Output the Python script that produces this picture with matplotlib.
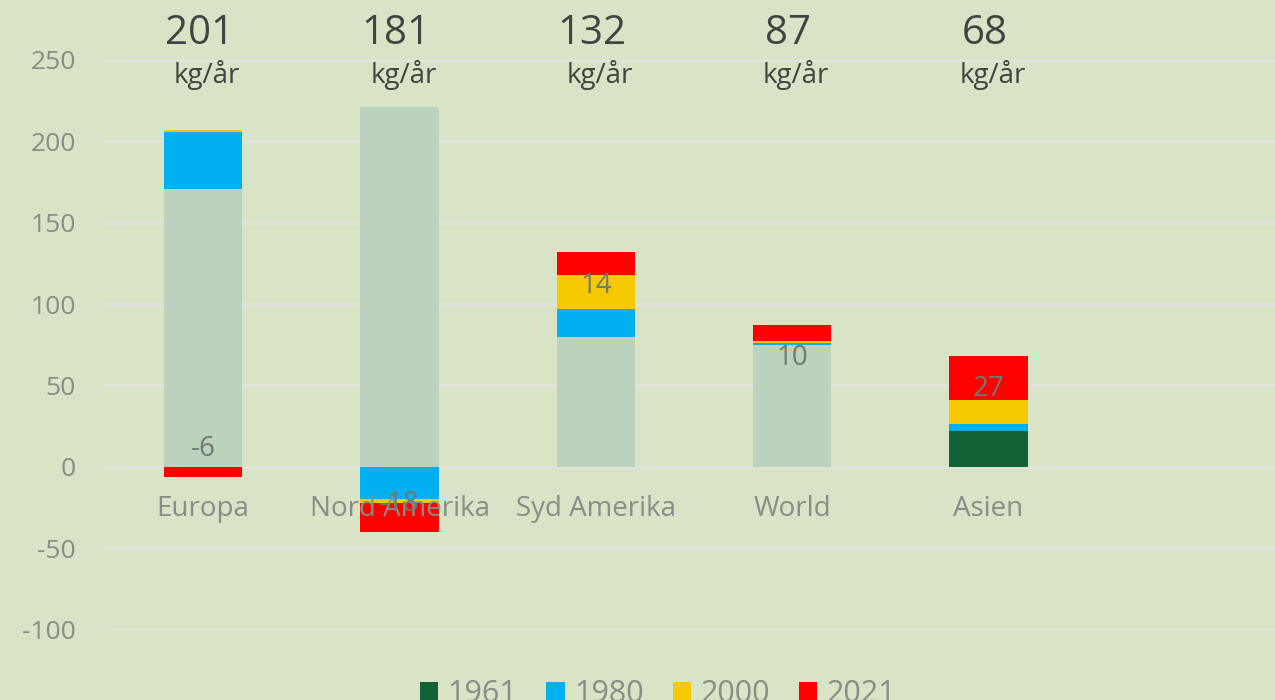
import matplotlib.pyplot as plt
import numpy as np
from matplotlib.patches import Patch
import matplotlib.transforms as mtransforms

# data
regioner = ["Europa", "Nord Amerika", "Syd Amerika", "World", "Asien"]
v1961 = [171, 221, 80, 75, 22]
v1980 = [35, -20, 17, 1, 4]
v2000 = [1, -2, 21, 1, 15]
v2021 = [-6, -18, 14, 10, 27]
totaler = [201, 181, 132, 87, 68]
aar = ["1961", "1980", "2000", "2021"]

# style
bg = "#D9E3C5"
farger = ["#126135", "#00B0F0", "#F5C800", "#FF0000"]
ljus = "#BBD3BE"  # 1961 for alla utom Asien
grå = "#858F87"
etikett_y = [11, -23, 111, 67, 48]  # var etiketterna för 2021 sitter

plt.rcParams['font.family'] = ['Open Sans', 'DejaVu Sans']
plt.rcParams['axes.unicode_minus'] = False

fig = plt.figure(figsize=(12.75, 7), dpi=100, facecolor=bg)
ax = fig.add_axes([105/1275, 0.1007, 1178/1275, 0.8136])
ax.set_facecolor(bg)

x = np.arange(len(regioner))
w = 0.4

# 1961
farg1961 = [ljus] * 4 + [farger[0]]
ax.bar(x, v1961, w, color=farg1961, zorder=2)

# staplade serier, positiva och negativa för sig
pos = np.array([max(v, 0) for v in v1961], dtype=float)
neg = np.array([min(v, 0) for v in v1961], dtype=float)
for serie, f in zip([v1980, v2000, v2021], farger[1:]):
    s = np.array(serie, dtype=float)
    bott = np.where(s >= 0, pos, neg)
    ax.bar(x, s, w, bottom=bott, color=f, zorder=2)
    pos = pos + np.clip(s, 0, None)
    neg = neg + np.clip(s, None, 0)

# etiketter 2021
for i, v in enumerate(v2021):
    ax.text(x[i], etikett_y[i], str(v), ha='center', va='center',
            fontsize=20, color="#6F7A72", zorder=4)

# kategorinamn vid nollinjen
for i, namn in enumerate(regioner):
    ax.text(x[i], -26, namn, ha='center', va='center', fontsize=20,
            color=grå, zorder=3)

# totaler ovanför
trans = mtransforms.blended_transform_factory(ax.transData, fig.transFigure)
for i, t in enumerate(totaler):
    ax.text(x[i] - 0.02, 1 - 34/700, str(t), ha='center', va='center',
            fontsize=29, color="#3F4540", transform=trans)
    ax.text(x[i] + 0.02, 1 - 75/700, "kg/år", ha='center', va='center',
            fontsize=20, color="#3F4540", transform=trans)

ax.set_xlim(-0.5, 5.5)
ax.set_ylim(-100, 250)
ax.set_yticks(np.arange(-100, 251, 50))
ax.set_xticks([])
ax.grid(axis='y', color="#E3E4DE", linewidth=2, zorder=0)
ax.tick_params(axis='y', length=0, pad=21, labelsize=19, labelcolor=grå)
for s in ax.spines.values():
    s.set_visible(False)

handles = [Patch(facecolor=f, edgecolor='none') for f in farger]
fig.legend(handles, aar, loc='center', bbox_to_anchor=(0.516, 1 - 694/700),
           ncol=4, frameon=False, fontsize=22, labelcolor=grå,
           handlelength=0.6, handleheight=0.6, handletextpad=0.3,
           columnspacing=0.95)

fig.savefig("out.png", dpi=100, facecolor=bg)
